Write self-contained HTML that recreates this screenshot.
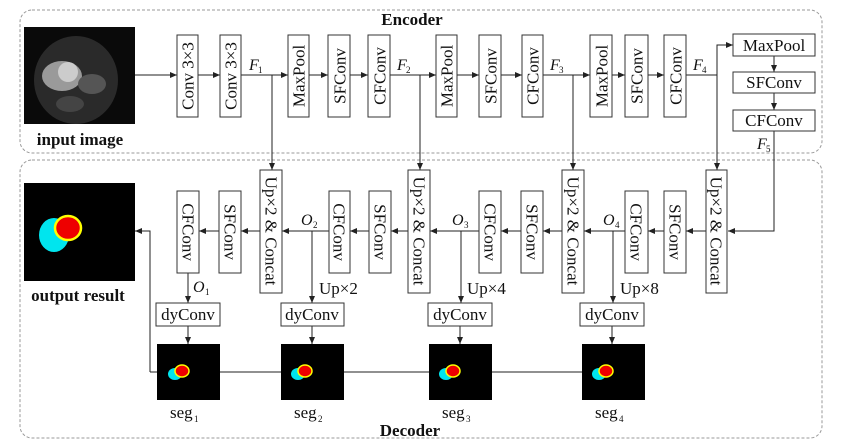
<!DOCTYPE html>
<html><head><meta charset="utf-8"><style>
html,body{margin:0;padding:0;background:#fff;}
svg{display:block;font-family:"Liberation Serif",serif;}
text{fill:#111;}
</style></head><body>
<svg width="856" height="448" viewBox="0 0 856 448" xmlns="http://www.w3.org/2000/svg">
<defs>
<marker id="a" markerWidth="8" markerHeight="8" refX="7" refY="4" orient="auto" markerUnits="userSpaceOnUse">
<path d="M0,1 L7,4 L0,7 z" fill="#222"/></marker>
</defs>
<g fill="none" stroke="#999" stroke-dasharray="3,2" stroke-width="1">
<rect x="20" y="10" width="802" height="143" rx="12"/>
<rect x="20" y="160" width="802" height="278" rx="12"/>
</g>
<text x="412" y="25" font-size="17" font-weight="bold" text-anchor="middle">Encoder</text>
<text x="410" y="436" font-size="17" font-weight="bold" text-anchor="middle">Decoder</text>

<!-- input image -->
<rect x="24" y="27" width="111" height="97" fill="#0a0a0a"/>
<ellipse cx="76" cy="80" rx="42" ry="44" fill="#2a2a2a"/>
<ellipse cx="62" cy="76" rx="20" ry="15" fill="#9a9a9a"/>
<circle cx="68" cy="72" r="10" fill="#ccc"/>
<ellipse cx="92" cy="84" rx="14" ry="10" fill="#555"/>
<ellipse cx="70" cy="104" rx="14" ry="8" fill="#444"/>
<text x="80" y="145" font-size="17" font-weight="bold" text-anchor="middle">input image</text>

<!-- output image -->
<rect x="24" y="183" width="111" height="98" fill="#000"/>
<ellipse cx="54" cy="235" rx="15" ry="17" fill="#00e5ee"/>
<ellipse cx="68" cy="228" rx="13" ry="12" fill="#e00" stroke="#ff0" stroke-width="2.5"/>
<text x="78" y="301" font-size="17" font-weight="bold" text-anchor="middle">output result</text>

<g stroke="#222" stroke-width="1" fill="none">
<line x1="135" y1="75" x2="177" y2="75" marker-end="url(#a)"/>
<line x1="198" y1="75" x2="220" y2="75" marker-end="url(#a)"/>
<line x1="241" y1="75" x2="288" y2="75" marker-end="url(#a)"/>
<line x1="309" y1="75" x2="328" y2="75" marker-end="url(#a)"/>
<line x1="350" y1="75" x2="368" y2="75" marker-end="url(#a)"/>
<line x1="390" y1="75" x2="436" y2="75" marker-end="url(#a)"/>
<line x1="457" y1="75" x2="479" y2="75" marker-end="url(#a)"/>
<line x1="501" y1="75" x2="522" y2="75" marker-end="url(#a)"/>
<line x1="543" y1="75" x2="590" y2="75" marker-end="url(#a)"/>
<line x1="612" y1="75" x2="625" y2="75" marker-end="url(#a)"/>
<line x1="648" y1="75" x2="664" y2="75" marker-end="url(#a)"/>
<polyline points="686,75 717,75 717,45 733,45" marker-end="url(#a)"/>
<line x1="774" y1="56" x2="774" y2="72" marker-end="url(#a)"/>
<line x1="774" y1="93" x2="774" y2="110" marker-end="url(#a)"/>
<polyline points="774,131 774,231 728,231" marker-end="url(#a)"/>
<line x1="272" y1="75" x2="272" y2="170" marker-end="url(#a)"/>
<line x1="420" y1="75" x2="420" y2="170" marker-end="url(#a)"/>
<line x1="573" y1="75" x2="573" y2="170" marker-end="url(#a)"/>
<line x1="717" y1="75" x2="717" y2="170" marker-end="url(#a)"/>
<line x1="706" y1="231" x2="686" y2="231" marker-end="url(#a)"/>
<line x1="664" y1="231" x2="648" y2="231" marker-end="url(#a)"/>
<line x1="625" y1="231" x2="584" y2="231" marker-end="url(#a)"/>
<line x1="562" y1="231" x2="543" y2="231" marker-end="url(#a)"/>
<line x1="521" y1="231" x2="501" y2="231" marker-end="url(#a)"/>
<line x1="479" y1="231" x2="430" y2="231" marker-end="url(#a)"/>
<line x1="408" y1="231" x2="391" y2="231" marker-end="url(#a)"/>
<line x1="369" y1="231" x2="350" y2="231" marker-end="url(#a)"/>
<line x1="329" y1="231" x2="282" y2="231" marker-end="url(#a)"/>
<line x1="260" y1="231" x2="241" y2="231" marker-end="url(#a)"/>
<line x1="219" y1="231" x2="199" y2="231" marker-end="url(#a)"/>
<line x1="188" y1="273" x2="188" y2="303" marker-end="url(#a)"/>
<line x1="312" y1="231" x2="312" y2="303" marker-end="url(#a)"/>
<line x1="461" y1="231" x2="461" y2="303" marker-end="url(#a)"/>
<line x1="613" y1="231" x2="613" y2="303" marker-end="url(#a)"/>
<line x1="188" y1="326" x2="188" y2="344" marker-end="url(#a)"/>
<line x1="312" y1="326" x2="312" y2="344" marker-end="url(#a)"/>
<line x1="460" y1="326" x2="460" y2="344" marker-end="url(#a)"/>
<line x1="612" y1="326" x2="612" y2="344" marker-end="url(#a)"/>
<line x1="150" y1="372" x2="583" y2="372"/>
<polyline points="150,372 150,231 135,231" marker-end="url(#a)"/>
</g>

<g fill="#fff" stroke="#333" stroke-width="1">
<rect x="177" y="35" width="21" height="82"/>
<rect x="220" y="35" width="21" height="82"/>
<rect x="288" y="35" width="21" height="82"/>
<rect x="328" y="35" width="22" height="82"/>
<rect x="368" y="35" width="22" height="82"/>
<rect x="436" y="35" width="21" height="82"/>
<rect x="479" y="35" width="22" height="82"/>
<rect x="522" y="35" width="21" height="82"/>
<rect x="590" y="35" width="22" height="82"/>
<rect x="625" y="35" width="23" height="82"/>
<rect x="664" y="35" width="22" height="82"/>
<rect x="733" y="34" width="82" height="22"/>
<rect x="733" y="72" width="82" height="21"/>
<rect x="733" y="110" width="82" height="21"/>
<rect x="260" y="170" width="22" height="123"/>
<rect x="408" y="170" width="22" height="123"/>
<rect x="562" y="170" width="22" height="123"/>
<rect x="706" y="170" width="21" height="123"/>
<rect x="177" y="191" width="22" height="82"/>
<rect x="219" y="191" width="22" height="82"/>
<rect x="329" y="191" width="21" height="82"/>
<rect x="369" y="191" width="22" height="82"/>
<rect x="479" y="191" width="22" height="82"/>
<rect x="521" y="191" width="22" height="82"/>
<rect x="625" y="191" width="23" height="82"/>
<rect x="664" y="191" width="22" height="82"/>
<rect x="156" y="303" width="64" height="23"/>
<rect x="281" y="303" width="63" height="23"/>
<rect x="428" y="303" width="64" height="23"/>
<rect x="580" y="303" width="64" height="23"/>
</g>

<g font-size="17" text-anchor="middle">
<text transform="translate(193.5,76) rotate(-90)">Conv 3×3</text>
<text transform="translate(236.5,76) rotate(-90)">Conv 3×3</text>
<text transform="translate(304.5,76) rotate(-90)">MaxPool</text>
<text transform="translate(345.5,76) rotate(-90)">SFConv</text>
<text transform="translate(385.5,76) rotate(-90)">CFConv</text>
<text transform="translate(452.5,76) rotate(-90)">MaxPool</text>
<text transform="translate(496.5,76) rotate(-90)">SFConv</text>
<text transform="translate(538.5,76) rotate(-90)">CFConv</text>
<text transform="translate(607.5,76) rotate(-90)">MaxPool</text>
<text transform="translate(642.5,76) rotate(-90)">SFConv</text>
<text transform="translate(681.5,76) rotate(-90)">CFConv</text>
<text x="774" y="51">MaxPool</text>
<text x="774" y="88">SFConv</text>
<text x="774" y="126">CFConv</text>
<text transform="translate(265.5,231) rotate(90)">Up×2 &amp; Concat</text>
<text transform="translate(413.5,231) rotate(90)">Up×2 &amp; Concat</text>
<text transform="translate(567.5,231) rotate(90)">Up×2 &amp; Concat</text>
<text transform="translate(710.5,231) rotate(90)">Up×2 &amp; Concat</text>
<text transform="translate(182.5,232) rotate(90)">CFConv</text>
<text transform="translate(224.5,232) rotate(90)">SFConv</text>
<text transform="translate(333.5,232) rotate(90)">CFConv</text>
<text transform="translate(374.5,232) rotate(90)">SFConv</text>
<text transform="translate(484.5,232) rotate(90)">CFConv</text>
<text transform="translate(526.5,232) rotate(90)">SFConv</text>
<text transform="translate(630.5,232) rotate(90)">CFConv</text>
<text transform="translate(669.5,232) rotate(90)">SFConv</text>
<text x="188" y="320">dyConv</text>
<text x="312" y="320">dyConv</text>
<text x="460" y="320">dyConv</text>
<text x="612" y="320">dyConv</text>
</g>

<g font-size="16" font-style="italic">
<text x="249" y="70">F</text><text x="258" y="73" font-size="9" font-style="normal">1</text>
<text x="397" y="70">F</text><text x="406" y="73" font-size="9" font-style="normal">2</text>
<text x="550" y="70">F</text><text x="559" y="73" font-size="9" font-style="normal">3</text>
<text x="693" y="70">F</text><text x="702" y="73" font-size="9" font-style="normal">4</text>
<text x="757" y="149">F</text><text x="766" y="152" font-size="9" font-style="normal">5</text>
<text x="193" y="292">O</text><text x="205" y="295" font-size="9" font-style="normal">1</text>
<text x="301" y="225">O</text><text x="313" y="228" font-size="9" font-style="normal">2</text>
<text x="452" y="225">O</text><text x="464" y="228" font-size="9" font-style="normal">3</text>
<text x="603" y="225">O</text><text x="615" y="228" font-size="9" font-style="normal">4</text>
</g>
<g font-size="17">
<text x="319" y="294">Up×2</text>
<text x="467" y="294">Up×4</text>
<text x="620" y="294">Up×8</text>
<text x="170" y="418">seg</text><text x="194" y="422" font-size="9">1</text>
<text x="294" y="418">seg</text><text x="318" y="422" font-size="9">2</text>
<text x="442" y="418">seg</text><text x="466" y="422" font-size="9">3</text>
<text x="595" y="418">seg</text><text x="619" y="422" font-size="9">4</text>
</g>

<g>
<rect x="157" y="344" width="63" height="56" fill="#000"/>
<ellipse cx="175" cy="374" rx="7" ry="6" fill="#00e5ee"/>
<ellipse cx="182" cy="371" rx="7" ry="6" fill="#e00" stroke="#ff0" stroke-width="1.5"/>
<rect x="281" y="344" width="63" height="56" fill="#000"/>
<ellipse cx="298" cy="374" rx="7" ry="6" fill="#00e5ee"/>
<ellipse cx="305" cy="371" rx="7" ry="6" fill="#e00" stroke="#ff0" stroke-width="1.5"/>
<rect x="429" y="344" width="63" height="56" fill="#000"/>
<ellipse cx="446" cy="374" rx="7" ry="6" fill="#00e5ee"/>
<ellipse cx="453" cy="371" rx="7" ry="6" fill="#e00" stroke="#ff0" stroke-width="1.5"/>
<rect x="582" y="344" width="63" height="56" fill="#000"/>
<ellipse cx="599" cy="374" rx="7" ry="6" fill="#00e5ee"/>
<ellipse cx="606" cy="371" rx="7" ry="6" fill="#e00" stroke="#ff0" stroke-width="1.5"/>
</g>
</svg>
</body></html>
